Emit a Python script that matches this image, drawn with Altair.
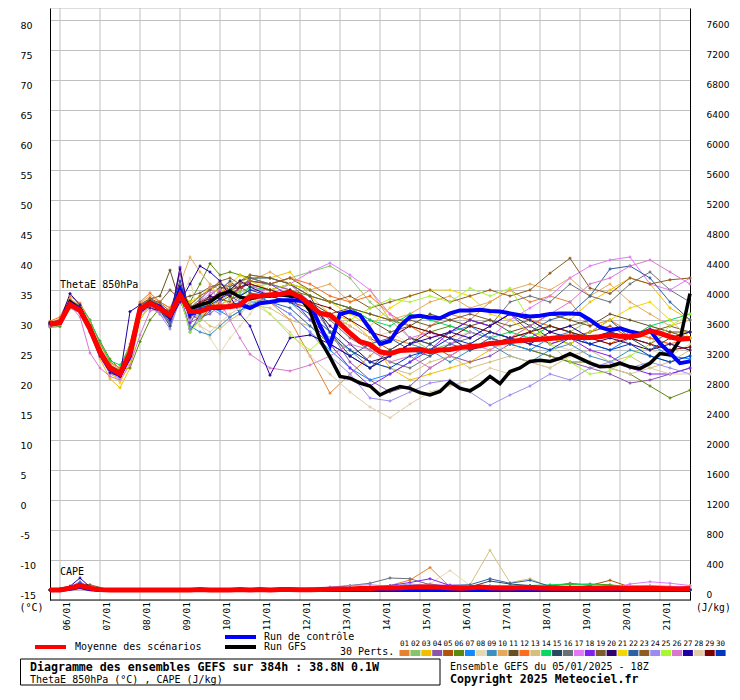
import altair as alt
import pandas as pd

# ---------------- chart values ----------------
MEMBER_IDS = ["01", "02", "03", "04", "05", "06", "07", "08", "09", "10",
              "11", "12", "13", "14", "15", "16", "17", "18", "19", "20",
              "21", "22", "23", "24", "25", "26", "27", "28", "29", "30"]
MEMBER_COLORS = ["#e8822e", "#88c46c", "#f0c000", "#8c54ac", "#b0520c", "#5c8a0c", "#1488ff", "#e8d8b0", "#3c90c0", "#e8a858",
                 "#645020", "#fc6c1c", "#d4c07c", "#08d860", "#284860", "#687078", "#e078f8", "#8020f0", "#7c5c2c", "#300070",
                 "#f0d800", "#2c60a0", "#8c5c20", "#9c8cf0", "#a8f830", "#d878d0", "#2000a0", "#e0cca8", "#800000", "#0038c0"]
DATE_LABELS = ["06/01", "07/01", "08/01", "09/01", "10/01", "11/01", "12/01", "13/01",
               "14/01", "15/01", "16/01", "17/01", "18/01", "19/01", "20/01", "21/01"]
DATE_TICK_HOURS = [6, 30, 54, 78, 102, 126, 150, 174, 198, 222, 246, 270, 294, 318, 342, 366]
Y_TICKS = [-15, -10, -5, 0, 5, 10, 15, 20, 25, 30, 35, 40, 45, 50, 55, 60, 65, 70, 75, 80]
CAPE_ZERO_AT = -15      # degC level where CAPE = 0 on the right axis
CAPE_PER_DEG = 80       # J/kg per degC of the left axis

RUN_HOURS = list(range(0, 385, 6))                                  # 65 steps (control, GFS, mean)
MEMBER_HOURS = list(range(0, 121, 6)) + list(range(132, 385, 12))   # 43 steps
CAPE_MEMBER_HOURS = [0, 12, 18, 24] + list(range(36, 385, 12))      # 34 steps

MEAN_THETA = [29.3, 29.6, 32.6, 31.6, 28.5, 24.6, 22.0, 21.0, 24.5, 31.8,
              32.8, 31.9, 30.8, 34.2, 31.4, 31.4, 32.1, 32.2, 32.2, 32.5,
              33.9, 34.0, 34.2, 34.3, 34.6, 33.9, 32.5, 31.1, 30.8, 29.4,
              27.8, 26.4, 25.9, 24.7, 24.4, 24.9, 25.0, 25.1, 24.7, 25.0,
              25.1, 25.4, 25.6, 25.7, 26.1, 26.2, 26.4, 26.6, 26.7, 26.8,
              26.9, 27.1, 27.2, 27.1, 27.1, 27.2, 27.5, 27.3, 27.2, 27.5,
              28.2, 27.8, 27.2, 26.8, 26.9]
CTRL_THETA = [29.3, 29.5, 32.8, 31.8, 28.5, 24.5, 21.8, 20.8, 24.0, 31.5,
              32.8, 32.2, 30.5, 35.0, 31.0, 31.5, 32.0, 32.0, 32.3, 32.6,
              32.0, 32.8, 33.0, 33.3, 33.3, 33.2, 32.8, 29.0, 25.8, 31.0,
              31.4, 30.8, 28.5, 26.0, 26.5, 29.0, 30.5, 30.7, 30.4, 30.3,
              31.1, 31.6, 31.6, 31.7, 31.5, 31.4, 31.1, 30.8, 30.6, 30.7,
              31.0, 31.1, 31.1, 31.0, 30.0, 28.8, 28.3, 28.6, 28.1, 27.7,
              28.3, 26.1, 24.5, 22.8, 23.1]
GFS_THETA = [29.3, 29.5, 33.0, 31.8, 28.7, 24.8, 22.0, 21.2, 24.5, 31.8,
             33.0, 32.0, 30.5, 34.5, 31.8, 32.5, 33.0, 34.2, 34.8, 33.8,
             33.5, 34.0, 34.0, 34.2, 34.0, 33.8, 31.5, 26.7, 23.8, 20.6,
             20.3, 19.5, 19.0, 17.5, 18.3, 18.9, 18.6, 17.9, 17.5, 18.1,
             19.7, 18.6, 18.2, 19.2, 20.6, 19.4, 21.4, 22.0, 23.1, 23.3,
             23.1, 23.6, 24.4, 23.6, 22.8, 22.2, 22.3, 22.8, 22.2, 21.9,
             22.8, 24.4, 24.2, 26.7, 34.4]

MEAN_CAPE = [0, 0, 25, 60, 25, 5, 0, 0, 0, 0,
             0, 0, 0, 0, 0, 8, 0, 0, 0, 8,
             0, 8, 0, 8, 8, 5, 5, 8, 10, 12,
             15, 20, 20, 25, 28, 30, 35, 40, 40, 35,
             30, 25, 30, 40, 30, 28, 28, 30, 30, 25,
             22, 22, 25, 25, 25, 22, 25, 22, 20, 20,
             22, 20, 18, 15, 20]
CTRL_CAPE = [0, 0, 15, 40, 10, 0, 0, 0, 0, 0,
             0, 0, 0, 0, 0, 0, 0, 0, 0, 0,
             0, 0, 0, 0, 0, 0, 0, 0, 0, 0,
             0, 0, 0, 0, 0, 0, 0, 0, 0, 0,
             0, 0, 0, 0, 0, 0, 0, 0, 0, 0,
             0, 0, 0, 0, 0, 0, 0, 0, 0, 0,
             0, 0, 0, 0, 0]
GFS_CAPE = [0, 0, 20, 50, 15, 0, 0, 0, 0, 0,
            0, 0, 0, 0, 0, 0, 0, 0, 0, 0,
            0, 0, 0, 0, 0, 0, 0, 0, 0, 0,
            0, 0, 0, 0, 0, 5, 5, 5, 5, 5,
            5, 0, 0, 5, 5, 5, 0, 0, 0, 5,
            5, 5, 0, 0, 0, 0, 0, 5, 5, 0,
            0, 0, 0, 5, 5]

MEMBER_THETA = {
    "01": [29.5, 30.2, 33.5, 32.0, 29.0, 25.5, 22.5, 21.5, 25.0, 32.2, 33.4, 32.5, 31.0, 35.5, 30.5, 32.0, 33.0, 34.0, 32.5, 34.0, 33.5,
           33, 30, 24, 17.8, 21, 24, 27, 26, 29, 31, 30, 33, 35, 33, 34, 33, 29, 30, 28, 27, 26, 25],
    "02": [29.0, 29.2, 32.5, 31.5, 28.0, 24.0, 21.5, 21.0, 23.5, 30.5, 32.0, 31.5, 29.5, 33.0, 30.0, 31.0, 33.5, 34.5, 35.0, 34.5, 35.5,
           36, 37, 38, 39, 37, 33, 30, 27, 25, 26, 28, 27, 26, 27, 29, 28, 30, 28, 27, 29, 28, 27],
    "03": [29.4, 29.6, 33.0, 32.2, 28.2, 23.5, 20.2, 18.7, 22.0, 30.0, 32.5, 32.0, 31.5, 35.0, 32.0, 33.0, 32.5, 33.0, 34.5, 36.0, 37.5,
           37, 38, 34, 31, 30, 27, 22, 20, 21, 22, 23, 25, 27, 29, 31, 30, 33, 35, 37, 36, 32, 30],
    "04": [29.2, 29.4, 32.6, 31.6, 28.6, 24.8, 22.0, 20.5, 24.0, 31.5, 33.0, 32.0, 30.0, 38.0, 29.5, 30.5, 31.0, 32.5, 33.5, 34.0, 35.0,
           35, 36, 33, 28, 23, 20, 18, 19, 22, 24, 23, 24, 26, 25, 24, 23, 22, 21, 19.5, 20, 21, 22],
    "05": [29.6, 29.8, 33.2, 32.0, 29.2, 25.0, 22.4, 21.4, 25.5, 32.5, 33.2, 32.0, 30.5, 34.0, 31.0, 30.0, 32.0, 33.5, 33.0, 35.5, 34.5,
           34, 33, 32, 31, 29, 27, 25, 27, 26, 24, 26, 28, 27, 28, 26, 27, 28, 29, 27, 26, 28, 27],
    "06": [28.8, 28.9, 32.0, 31.2, 29.5, 26.5, 23.5, 21.8, 22.0, 26.4, 30.0, 32.0, 31.0, 33.5, 33.0, 36.0, 39.4, 37.5, 38.0, 37.5, 37.0,
           36, 35, 34, 33, 32, 31, 30, 29, 28, 29, 28, 27, 26, 25, 24, 23, 23, 22, 21, 19, 17, 18.3],
    "07": [29.3, 29.5, 32.8, 31.9, 28.4, 24.5, 21.8, 20.8, 24.8, 32.0, 33.0, 31.5, 30.5, 34.5, 30.5, 31.5, 32.0, 31.5, 30.5, 31.5, 33.0,
           33, 31, 28, 25, 22, 20, 21, 23, 26, 28, 29, 27, 26, 25, 27, 28, 26, 25, 27, 26, 24, 23.5],
    "08": [29.1, 29.3, 32.4, 31.4, 28.0, 24.0, 21.2, 20.5, 23.5, 31.0, 32.0, 31.0, 31.5, 33.0, 37.0, 29.0, 27.0, 24.5, 27.0, 29.0, 31.0,
           36, 35, 33, 31, 29, 27, 28, 26, 25, 27, 28, 26, 25, 27, 26, 25, 27, 28, 26, 25, 24, 26],
    "09": [29.5, 29.7, 33.0, 32.0, 28.8, 24.9, 22.3, 21.2, 24.8, 32.0, 32.8, 31.8, 29.0, 33.5, 29.0, 28.0, 27.5, 29.0, 30.5, 31.5, 32.5,
           34, 33, 30, 27, 25, 22, 24, 26, 25, 23, 25, 26, 24, 23, 25, 26, 24, 23, 25, 24, 23, 24],
    "10": [29.2, 29.9, 33.5, 32.5, 29.5, 25.5, 22.8, 21.8, 25.5, 32.8, 34.0, 33.0, 32.0, 36.0, 40.5, 38.0, 36.0, 35.0, 36.0, 35.5, 36.5,
           38, 36, 35, 36, 33, 35, 30, 31, 33, 34, 32, 33, 35, 36, 35, 37, 34, 36, 33, 31, 29, 30],
    "11": [29.0, 29.4, 32.6, 31.5, 28.5, 24.4, 22.0, 21.3, 24.0, 32.0, 33.5, 34.0, 38.3, 33.0, 31.5, 33.0, 34.0, 35.5, 35.0, 35.5, 36.0,
           35, 34, 33, 31, 32, 30, 28, 29, 31, 30, 29, 30, 28, 29, 31, 30, 29, 31, 30, 29, 28, 28],
    "12": [29.8, 30.5, 34.0, 32.8, 30.0, 26.0, 23.0, 22.0, 26.0, 33.0, 34.5, 33.0, 32.0, 35.0, 32.0, 32.5, 33.0, 34.0, 36.0, 35.0, 36.5,
           36, 37, 36, 34, 33, 34, 31, 29, 27, 28, 30, 29, 31, 30, 29, 28, 27, 26, 28, 27, 26, 27],
    "13": [29.3, 29.5, 32.7, 31.7, 28.3, 24.3, 21.7, 20.9, 24.2, 31.2, 32.4, 31.5, 30.0, 33.5, 31.0, 30.5, 29.0, 28.5, 30.0, 31.0, 32.5,
           32, 30, 29, 27, 25, 23, 22, 21, 23, 24, 22, 23, 24, 23, 22, 24, 25, 23, 24, 22, 23, 25],
    "14": [29.5, 29.8, 33.2, 32.4, 30.0, 26.2, 23.2, 22.5, 25.5, 31.5, 32.5, 31.5, 30.5, 34.0, 32.5, 32.0, 33.0, 34.5, 35.0, 34.0, 35.5,
           35, 36, 35, 33, 32, 30, 29, 31, 30, 29, 28, 27, 28, 27, 29, 28, 27, 28, 27, 29, 30, 31],
    "15": [29.4, 29.6, 33.0, 32.0, 28.6, 24.6, 21.8, 20.6, 24.0, 32.0, 33.0, 31.6, 29.0, 34.5, 28.0, 31.0, 33.0, 35.0, 36.5, 35.0, 37.0,
           37, 36, 34, 28, 24, 22, 25, 27, 26, 28, 30, 29, 31, 29, 27, 26, 28, 30, 27, 25, 27, 28],
    "16": [29.2, 29.4, 32.8, 31.9, 28.8, 24.8, 22.2, 21.4, 25.0, 32.5, 33.5, 32.5, 31.0, 36.0, 32.0, 33.5, 35.0, 36.0, 35.5, 36.5, 37.0,
           36, 35, 33, 30, 27, 25, 23, 22, 24, 26, 27, 29, 33, 34, 33, 36, 34, 33, 36, 38, 35, 33],
    "17": [29.0, 29.3, 32.5, 31.2, 28.0, 23.8, 21.0, 20.2, 23.5, 31.0, 32.5, 31.0, 29.5, 33.0, 30.0, 33.0, 34.5, 35.0, 34.0, 35.5, 36.0,
           34, 36, 38, 39.5, 37.5, 35, 31, 27, 28, 26, 28, 27, 30, 32, 34, 37, 39, 40, 40.5, 36, 35, 37],
    "18": [29.3, 29.6, 33.0, 32.0, 28.6, 24.7, 22.1, 21.1, 24.6, 31.9, 33.0, 32.0, 30.0, 38.8, 29.5, 32.0, 33.5, 34.5, 36.0, 35.0, 36.5,
           36, 34, 30, 26, 22, 19, 21, 23, 25, 28, 30, 29, 31, 28, 26, 27, 25, 24, 22, 21, 21, 22],
    "19": [29.5, 29.7, 32.9, 31.9, 28.7, 24.8, 22.2, 21.3, 24.8, 32.0, 33.0, 33.0, 35.0, 33.5, 34.0, 34.5, 35.5, 36.0, 35.0, 36.5, 37.5,
           37, 36, 34, 33, 32, 31, 30, 30, 29, 30, 31, 30, 29, 30, 28, 29, 30, 28, 27, 28, 29, 28],
    "20": [29.1, 29.3, 32.7, 31.7, 28.4, 24.4, 21.8, 20.7, 24.3, 31.6, 32.6, 31.8, 30.0, 38.5, 30.5, 32.5, 34.0, 33.5, 35.0, 36.5, 35.5,
           34, 35, 33, 29, 26, 23, 24, 26, 28, 27, 25, 26, 27, 26, 28, 27, 26, 27, 26, 25, 26, 25],
    "21": [29.4, 29.6, 33.0, 32.0, 28.5, 24.5, 21.5, 19.5, 23.0, 31.0, 32.5, 32.0, 31.5, 34.5, 33.0, 34.0, 35.5, 34.5, 36.0, 37.5, 36.5,
           35, 36, 35, 33, 31, 29, 32, 34, 35, 35, 34, 31, 30, 28, 27, 26, 28, 30, 32, 33, 30, 27],
    "22": [29.3, 29.5, 32.8, 31.8, 28.5, 24.6, 22.0, 21.0, 24.6, 31.8, 32.8, 31.9, 29.5, 34.0, 28.5, 30.0, 31.5, 33.0, 34.0, 33.0, 34.5,
           33, 32, 29, 26, 24, 26, 27, 25, 24, 26, 25, 27, 26, 28, 30, 31, 34, 38.5, 39, 37, 33, 30],
    "23": [29.6, 29.9, 33.3, 32.3, 29.0, 25.2, 22.5, 21.6, 25.2, 32.6, 33.6, 32.8, 31.5, 35.5, 32.5, 34.0, 35.0, 36.5, 37.0, 36.0, 36.5,
           36, 37, 35, 33, 34, 32, 33, 34, 35, 33, 34, 35, 34, 35, 37.8, 40.3, 35.3, 34.4, 37, 36, 36.7, 37],
    "24": [29.0, 29.2, 32.3, 31.3, 28.0, 24.0, 21.3, 20.3, 23.8, 31.0, 32.2, 31.0, 28.5, 33.5, 28.5, 30.5, 32.0, 31.0, 32.5, 33.5, 34.0,
           33, 31, 28, 24, 21, 17, 16.5, 18, 19.5, 20, 18, 15.8, 17.5, 19, 21, 20, 22, 23, 22, 23, 22, 21],
    "25": [29.5, 29.6, 32.9, 31.8, 28.6, 24.7, 22.1, 21.1, 24.6, 31.5, 32.5, 31.5, 30.0, 34.0, 28.0, 30.0, 33.0, 32.5, 33.5, 35.0, 34.0,
           31, 27.5, 25, 28, 30, 32, 33.5, 33, 34, 33, 35.3, 34, 35.3, 30, 26, 23, 21, 21.5, 24, 26, 29, 31],
    "26": [29.2, 29.4, 32.4, 30.5, 24.5, 22.0, 20.6, 20.0, 22.5, 27.5, 31.5, 32.0, 31.0, 35.0, 31.5, 33.0, 35.5, 33.0, 30.0, 27.0, 24.3,
           22, 21.5, 22.5, 24, 26, 25, 23, 24, 22, 24, 26, 25, 27, 29, 31, 33, 36, 37, 39, 40, 38, 36],
    "27": [29.6, 29.9, 34.4, 32.5, 28.5, 24.0, 21.2, 20.6, 31.4, 32.5, 32.0, 31.5, 30.0, 33.0, 36.0, 39.0, 38.0, 36.5, 34.0, 31.0, 29.0,
           20.8, 27, 27.5, 26, 24, 22, 24, 26, 27, 28, 27, 29, 31, 30, 28, 29, 27, 28, 27, 28, 27, 28],
    "28": [29.2, 29.4, 32.6, 31.6, 28.4, 24.5, 21.9, 20.9, 24.4, 31.6, 32.6, 31.6, 30.5, 34.0, 31.0, 29.0, 28.0, 29.5, 31.0, 32.0, 33.0,
           31, 28, 24, 21, 18, 15.5, 13.7, 16, 18, 19, 20, 22, 21, 23, 22, 24, 23, 22, 21, 22, 21, 21],
    "29": [29.4, 29.6, 32.9, 31.9, 28.7, 24.8, 22.2, 21.2, 24.7, 32.0, 33.0, 32.0, 31.0, 35.5, 32.0, 33.0, 33.5, 34.5, 34.0, 35.5, 36.0,
           35, 34, 33, 32, 30, 28, 27, 29, 28, 27, 29, 28, 27, 28, 29, 28, 27, 26, 27, 26, 25, 25.5],
    "30": [29.3, 29.5, 32.8, 31.8, 28.5, 24.6, 22.0, 21.0, 24.5, 31.8, 32.8, 32.0, 31.5, 36.5, 31.0, 32.0, 32.5, 33.5, 34.5, 34.0, 35.0,
           34, 33, 31, 28, 25, 23, 22, 24, 25, 27, 26, 28, 27, 26, 25, 27, 26, 25, 26, 24, 23, 24],
}

MEMBER_CAPE = {
    "01": [0, 30, 80, 20, 0, 0, 0, 0, 0, 0, 0, 0, 0, 0, 5, 10, 20, 30, 60, 133, 300, 40, 30, 20, 15, 10, 10, 5, 5, 0, 0, 0, 0, 10],
    "02": [0, 20, 60, 15, 0, 0, 0, 0, 0, 0, 0, 0, 0, 0, 0, 5, 10, 15, 20, 25, 30, 20, 15, 20, 25, 20, 15, 10, 15, 20, 15, 10, 5, 10],
    "03": [0, 25, 70, 10, 0, 0, 0, 0, 0, 0, 0, 0, 0, 0, 0, 0, 5, 10, 15, 20, 25, 30, 20, 15, 10, 5, 10, 15, 10, 5, 10, 15, 20, 60],
    "04": [0, 40, 100, 30, 0, 0, 0, 0, 0, 0, 0, 0, 0, 0, 10, 15, 20, 30, 40, 60, 80, 50, 30, 25, 20, 15, 10, 10, 5, 5, 10, 5, 5, 0],
    "05": [0, 20, 50, 10, 0, 0, 0, 0, 0, 0, 0, 0, 0, 0, 0, 5, 10, 10, 15, 20, 25, 20, 15, 20, 30, 40, 50, 90, 60, 130, 40, 20, 10, 5],
    "06": [0, 15, 40, 10, 0, 0, 0, 0, 0, 0, 0, 0, 0, 0, 0, 0, 5, 10, 10, 15, 20, 25, 20, 30, 40, 50, 60, 75, 80, 70, 40, 20, 10, 10],
    "07": [0, 35, 90, 25, 0, 0, 0, 0, 0, 0, 0, 0, 0, 0, 10, 20, 30, 40, 50, 60, 50, 40, 30, 35, 40, 30, 20, 15, 10, 10, 5, 5, 5, 0],
    "08": [0, 20, 50, 15, 0, 0, 0, 0, 0, 0, 0, 0, 0, 0, 0, 10, 20, 40, 50, 60, 80, 260, 60, 30, 20, 15, 10, 10, 5, 5, 5, 0, 0, 5],
    "09": [0, 30, 70, 20, 0, 0, 0, 0, 0, 0, 0, 0, 0, 0, 5, 10, 15, 20, 25, 30, 35, 30, 25, 30, 40, 45, 30, 20, 15, 10, 10, 10, 5, 5],
    "10": [0, 25, 60, 15, 0, 0, 0, 0, 0, 0, 0, 0, 0, 0, 0, 5, 10, 15, 20, 30, 40, 50, 40, 30, 20, 15, 10, 10, 5, 5, 5, 5, 0, 0],
    "11": [0, 20, 50, 10, 0, 0, 0, 0, 0, 0, 0, 0, 0, 0, 0, 0, 5, 10, 15, 10, 20, 30, 40, 50, 50, 40, 30, 20, 10, 5, 5, 5, 0, 0],
    "12": [0, 30, 80, 20, 0, 0, 0, 0, 0, 0, 0, 0, 0, 0, 5, 10, 15, 20, 30, 40, 50, 40, 30, 20, 15, 10, 10, 5, 5, 5, 0, 0, 0, 0],
    "13": [0, 25, 60, 15, 0, 0, 0, 0, 0, 0, 0, 0, 0, 0, 5, 15, 30, 40, 50, 55, 60, 50, 70, 530, 100, 150, 40, 30, 20, 10, 10, 5, 5, 5],
    "14": [0, 20, 50, 15, 0, 0, 0, 0, 0, 0, 0, 0, 0, 0, 0, 5, 10, 15, 20, 25, 30, 35, 30, 40, 50, 60, 70, 80, 70, 60, 50, 40, 30, 20],
    "15": [0, 30, 70, 20, 0, 0, 0, 0, 0, 0, 0, 0, 0, 0, 5, 10, 20, 30, 40, 50, 60, 50, 40, 120, 80, 60, 40, 30, 20, 15, 10, 10, 5, 5],
    "16": [0, 40, 110, 30, 0, 0, 0, 0, 0, 0, 0, 0, 0, 0, 10, 30, 60, 90, 160, 150, 70, 50, 40, 30, 20, 15, 10, 10, 5, 5, 5, 0, 0, 0],
    "17": [0, 25, 60, 20, 0, 0, 0, 0, 0, 0, 0, 0, 0, 0, 0, 5, 10, 20, 30, 50, 60, 70, 60, 50, 40, 45, 30, 20, 15, 20, 80, 110, 90, 60],
    "18": [0, 35, 90, 25, 0, 0, 0, 0, 0, 0, 0, 0, 0, 0, 5, 15, 30, 40, 60, 100, 150, 60, 40, 30, 20, 15, 10, 10, 5, 5, 5, 0, 0, 0],
    "19": [0, 40, 80, 70, 0, 0, 0, 0, 0, 0, 0, 0, 0, 0, 0, 5, 10, 15, 20, 25, 30, 35, 40, 30, 25, 20, 30, 40, 30, 20, 15, 10, 10, 5],
    "20": [0, 30, 80, 20, 0, 0, 0, 0, 0, 0, 0, 0, 0, 0, 0, 5, 10, 15, 20, 25, 30, 25, 20, 25, 30, 20, 15, 10, 10, 5, 5, 5, 5, 5],
    "21": [0, 25, 60, 15, 0, 0, 0, 0, 0, 0, 0, 0, 0, 0, 0, 5, 10, 15, 20, 25, 30, 35, 40, 30, 20, 15, 10, 10, 5, 5, 5, 5, 10, 40],
    "22": [0, 30, 70, 20, 0, 0, 0, 0, 0, 0, 0, 0, 0, 0, 5, 10, 15, 20, 30, 40, 50, 60, 70, 150, 90, 130, 50, 30, 20, 15, 10, 10, 5, 5],
    "23": [0, 25, 60, 20, 0, 0, 0, 0, 0, 0, 0, 0, 0, 0, 0, 5, 10, 15, 20, 25, 20, 30, 40, 35, 30, 25, 30, 35, 40, 30, 20, 15, 10, 10],
    "24": [0, 40, 100, 25, 0, 0, 0, 0, 0, 0, 0, 0, 0, 0, 10, 40, 60, 70, 50, 80, 60, 50, 40, 60, 50, 40, 30, 20, 15, 10, 10, 5, 5, 5],
    "25": [0, 20, 50, 10, 0, 0, 0, 0, 0, 0, 0, 0, 0, 0, 0, 5, 10, 15, 20, 25, 30, 35, 30, 25, 20, 15, 20, 25, 20, 15, 10, 10, 10, 20],
    "26": [0, 30, 70, 20, 0, 0, 0, 0, 0, 0, 0, 0, 0, 0, 0, 5, 10, 15, 20, 25, 20, 30, 35, 40, 45, 40, 30, 20, 30, 40, 60, 60, 50, 40],
    "27": [0, 50, 160, 40, 0, 0, 0, 0, 0, 0, 0, 0, 0, 0, 5, 10, 15, 20, 25, 20, 25, 30, 25, 20, 15, 10, 10, 10, 5, 5, 5, 5, 5, 5],
    "28": [0, 20, 50, 10, 0, 0, 0, 0, 0, 0, 0, 0, 0, 0, 5, 10, 15, 20, 30, 40, 50, 40, 30, 25, 20, 15, 10, 10, 5, 5, 5, 5, 5, 5],
    "29": [0, 25, 60, 15, 0, 0, 0, 0, 0, 0, 0, 0, 0, 0, 0, 5, 10, 15, 20, 25, 20, 15, 20, 25, 30, 20, 15, 10, 10, 10, 5, 5, 5, 5],
    "30": [0, 35, 90, 25, 0, 0, 0, 0, 0, 0, 0, 0, 0, 0, 5, 10, 15, 20, 25, 30, 25, 20, 15, 20, 25, 20, 15, 10, 10, 5, 5, 5, 5, 0],
}

# ---------------- tables ----------------
def long_table(series, hours, key):
    rows = []
    for s, vals in series.items():
        assert len(vals) == len(hours), (s, key, len(vals), len(hours))
        for h, v in zip(hours, vals):
            rows.append({"s": s, "h": h, key: v})
    return pd.DataFrame(rows)

mt = long_table(MEMBER_THETA, MEMBER_HOURS, "v")
mc = long_table(MEMBER_CAPE, CAPE_MEMBER_HOURS, "c")
ctrl_t = long_table({"ctrl": CTRL_THETA}, RUN_HOURS, "v")
gfs_t = long_table({"gfs": GFS_THETA}, RUN_HOURS, "v")
mean_t = long_table({"mean": MEAN_THETA}, RUN_HOURS, "v")
ctrl_c = long_table({"ctrl": CTRL_CAPE}, RUN_HOURS, "c")
gfs_c = long_table({"gfs": GFS_CAPE}, RUN_HOURS, "c")
mean_c = long_table({"mean": MEAN_CAPE}, RUN_HOURS, "c")
date_df = pd.DataFrame({"h": DATE_TICK_HOURS, "lab": DATE_LABELS})
swatch_df = pd.DataFrame({"s": MEMBER_IDS, "i": list(range(len(MEMBER_IDS)))})
ONE = pd.DataFrame({"k": [0]})

MONO = "DejaVu Sans Mono"
SANS = "DejaVu Sans"
GRID = "#c0c0c0"
PLOT_W, PLOT_H = 640, 592

xscale = alt.Scale(domain=[0, 384], nice=False, zero=False)
yscale = alt.Scale(domain=[CAPE_ZERO_AT - 10 / 6, 82], nice=False, zero=False)
color_scale = alt.Scale(domain=MEMBER_IDS, range=MEMBER_COLORS)

left_axis = alt.Axis(values=Y_TICKS, labelExpr="'' + datum.value", title=None, grid=True, gridColor=GRID, gridWidth=1,
                     ticks=False, tickSize=0, domainColor="black", domainWidth=1, labelAlign="left", labelBaseline="top",
                     labelPadding=30, labelFont=SANS, labelFontSize=9.5, labelColor="black", labelOverlap=False)
right_axis = alt.Axis(orient="right", values=Y_TICKS,
                      labelExpr="'' + round((datum.value - (%d)) * %d)" % (CAPE_ZERO_AT, CAPE_PER_DEG),
                      title=None, grid=False, ticks=False, tickSize=0, domainColor="black", domainWidth=1,
                      labelAlign="left", labelBaseline="top", labelPadding=16, labelFont=SANS, labelFontSize=9,
                      labelColor="black", labelOverlap=False)

cape_calc = "datum.c / %d + (%d)" % (CAPE_PER_DEG, CAPE_ZERO_AT)
pt = alt.OverlayMarkDef(shape="cross", size=9, filled=True)
X = alt.X("h:Q", scale=xscale, axis=None)

# vertical grid lines, bottom axis line and the day labels
day_grid = alt.Chart(date_df).mark_rule(color=GRID, strokeWidth=1).encode(
    x=X, y=alt.value(0), y2=alt.value(PLOT_H))
day_labels = alt.Chart(date_df).mark_text(angle=270, align="right", baseline="middle", dy=7,
                                          font=MONO, fontSize=9.5, color="black").encode(
    x=X, y=alt.value(PLOT_H + 2), text="lab:N")
bottom_line = alt.Chart(ONE).mark_rule(color="black", strokeWidth=1).encode(
    x=alt.value(0), x2=alt.value(PLOT_W), y=alt.value(PLOT_H))

members_cape = alt.Chart(mc).transform_calculate(yc=cape_calc).mark_line(strokeWidth=1, point=pt).encode(
    x=X, y=alt.Y("yc:Q", scale=yscale, axis=None),
    color=alt.Color("s:N", scale=color_scale, legend=None))
members_theta = alt.Chart(mt).mark_line(strokeWidth=1, point=pt).encode(
    x=X, y=alt.Y("v:Q", scale=yscale, axis=left_axis),
    color=alt.Color("s:N", scale=color_scale, legend=None))

def run_line(df, color, width, field="v", axis=None, cape=False):
    ch = alt.Chart(df)
    if cape:
        ch = ch.transform_calculate(yc=cape_calc)
        field = "yc"
    return ch.mark_line(color=color, strokeWidth=width).encode(
        x=X, y=alt.Y(field + ":Q", scale=yscale, axis=axis))

gfs_cape_l = run_line(gfs_c, "#000000", 3.5, cape=True)
ctrl_cape_l = run_line(ctrl_c, "#0000ff", 4, cape=True)
gfs_theta_l = run_line(gfs_t, "#000000", 3.5)
ctrl_theta_l = run_line(ctrl_t, "#0000ff", 4)
mean_cape_l = run_line(mean_c, "#ff0000", 5, cape=True)
mean_theta_l = run_line(mean_t, "#ff0000", 5, axis=right_axis)

def label(text, x, y, size=10, bold=False, align="left", baseline="middle", font=MONO):
    return alt.Chart(ONE).mark_text(text=text, align=align, baseline=baseline, font=font, fontSize=size,
                                    fontWeight="bold" if bold else "normal", color="black").encode(
        x=alt.value(x), y=alt.value(y))

def hline(x1, x2, y, color, width):
    return alt.Chart(ONE).mark_rule(color=color, strokeWidth=width).encode(
        x=alt.value(x1), x2=alt.value(x2), y=alt.value(y))

swatches = alt.Chart(swatch_df).transform_calculate(
    sx="349.5 + datum.i * 10.9", sx2="359.5 + datum.i * 10.9").mark_rect().encode(
    x=alt.X("sx:Q", scale=None, axis=None), x2="sx2:Q", y=alt.value(642), y2=alt.value(648),
    color=alt.Color("s:N", scale=color_scale, legend=None))
swatch_labels = alt.Chart(swatch_df).transform_calculate(
    sx="354.5 + datum.i * 10.9").mark_text(font=MONO, fontSize=7.5, baseline="middle", align="center", color="black").encode(
    x=alt.X("sx:Q", scale=None, axis=None), y=alt.value(635.5), text="s:N")

box = alt.Chart(ONE).mark_rect(fill="white", stroke="black", strokeWidth=1).encode(
    x=alt.value(-29.5), x2=alt.value(390), y=alt.value(651), y2=alt.value(677))

layers = [
    day_grid, bottom_line, day_labels,
    members_cape, members_theta,
    gfs_cape_l, ctrl_cape_l, gfs_theta_l, ctrl_theta_l,
    mean_cape_l, mean_theta_l,
    label("ThetaE 850hPa", 10, 272, baseline="top"),
    label("CAPE", 10, 559, baseline="top"),
    label("(°C)", -30.5, 595, baseline="top"),
    label("(J/kg)", 646, 595, size=9.6, baseline="top"),
    hline(-15, 16, 639, "#ff0000", 4),
    label("Moyenne des scénarios", 25, 639),
    hline(175, 206, 629, "#0000ff", 4),
    hline(175, 206, 639, "#000000", 4),
    label("Run de contrôle", 214, 629),
    label("Run GFS", 214, 639),
    label("30 Perts.", 290, 643.5),
    swatches, swatch_labels,
    box,
    label("Diagramme des ensembles GEFS sur 384h : 38.8N 0.1W", -20, 660, size=11.6, bold=True),
    label("ThetaE 850hPa (°C) , CAPE (J/kg)", -20, 671.5),
    label("Ensemble GEFS du 05/01/2025 - 18Z", 400, 659),
    label("Copyright 2025 Meteociel.fr", 400, 672, size=11.6, bold=True),
]

chart = alt.layer(*layers).properties(
    width=PLOT_W, height=PLOT_H,
    padding={"left": 42, "top": 0, "right": 40, "bottom": 86},
    autosize=alt.AutoSizeParams(type="none"),
).resolve_scale(y="shared", x="shared").resolve_axis(y="independent").configure_view(
    stroke=None).configure(background="white")

chart.save("out.html", embed_options={"renderer": "svg", "actions": False})
